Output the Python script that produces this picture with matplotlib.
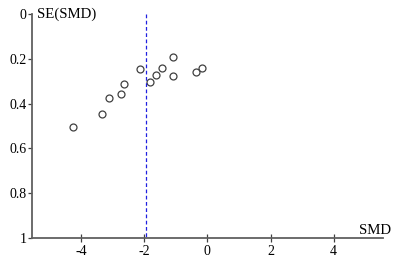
import matplotlib
matplotlib.use("Agg")
import matplotlib.pyplot as plt

# Funnel plot data: standardized mean difference vs its standard error
smd = [-4.24, -3.32, -3.10, -2.74, -2.65, -2.12, -1.81, -1.64, -1.44, -1.09, -1.09, -0.35, -0.18]
se_smd = [0.503, 0.447, 0.374, 0.358, 0.312, 0.245, 0.305, 0.274, 0.239, 0.190, 0.278, 0.260, 0.239]
pooled_smd = -1.94

x_ticks = [-4, -2, 0, 2, 4]
y_ticks = [0, 0.2, 0.4, 0.6, 0.8, 1]
y_tick_labels = ["0", "0.2", "0.4", "0.6", "0.8", "1"]

plt.rcParams['font.family'] = ['Liberation Serif', 'DejaVu Serif']

fig = plt.figure(figsize=(4.01, 2.65), dpi=100)
ax = fig.add_axes([32 / 401, 1 - 237.7 / 265, (383.3 - 32) / 401, (237.7 - 14.2) / 265])

ax.plot(smd, se_smd, 'o', markersize=5, markerfacecolor='none',
        markeredgecolor='#404040', markeredgewidth=0.9, clip_on=False)
ax.plot([pooled_smd, pooled_smd], [0, 1], color='#2020e0', linestyle=(0, (3, 2)),
        linewidth=0.9)

ax.set_xlim(-5.55, 5.57)
ax.set_ylim(1, 0)

ax.set_xticks(x_ticks)
ax.set_xticklabels([str(t) for t in x_ticks])
ax.set_yticks(y_ticks)
ax.set_yticklabels(y_tick_labels)

for side in ['top', 'right']:
    ax.spines[side].set_visible(False)
for side in ['left', 'bottom']:
    ax.spines[side].set_color('#606060')
    ax.spines[side].set_linewidth(1.3)

ax.tick_params(axis='x', direction='inout', length=6, width=0.9, colors='#404040',
               labelsize=10, labelcolor='black', pad=2)
ax.tick_params(axis='y', direction='out', length=3, width=0.9, colors='#404040',
               labelsize=10, labelcolor='black', pad=1)

ax.text(37 / 401, 1 - 14 / 265, 'SE(SMD)', transform=fig.transFigure,
        fontsize=10.7, ha='left', va='center')
ax.text(391 / 401, 1 - 230 / 265, 'SMD', transform=fig.transFigure,
        fontsize=10.7, ha='right', va='center')

fig.savefig('out.png', dpi=100)
